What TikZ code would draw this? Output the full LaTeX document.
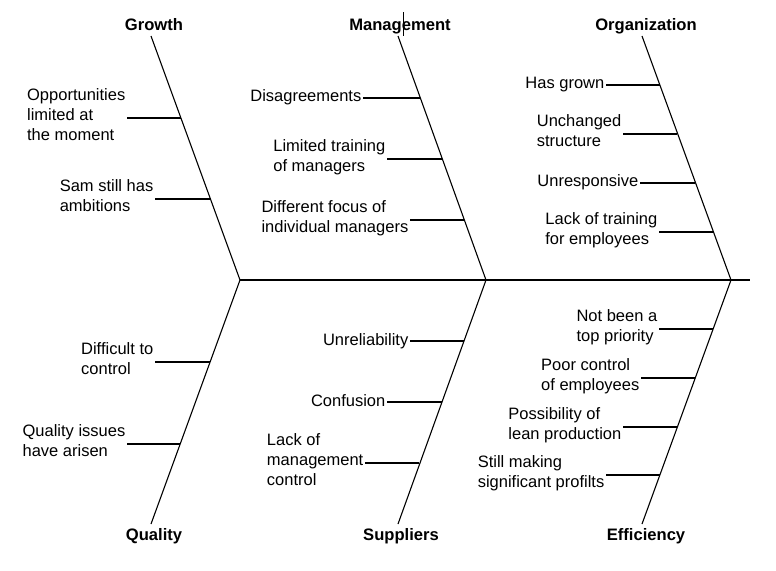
\documentclass[tikz,border=0pt]{standalone}
\usepackage{fontspec}
\setmainfont{Liberation Sans}
\begin{document}
\begin{tikzpicture}[x=1pt,y=-1pt,
  every node/.style={font=\fontsize{16.5}{20}\selectfont, inner sep=0pt},
  head/.style={font=\fontsize{16.6}{20}\selectfont\bfseries, anchor=base},
  cause/.style={align=left, anchor=east, inner xsep=1.5pt,
    execute at begin node=\strut, execute at end node=\strut},
  bone/.style={line width=1.1pt},
  rib/.style={line width=2pt},
  spine/.style={line width=2pt}]
\useasboundingbox (0,0) rectangle (776,570);
% branch ends
\coordinate (gT) at (151,36);
\coordinate (mT) at (398,36);
\coordinate (oT) at (642,36);
\coordinate (jG) at (240,280);
\coordinate (jM) at (486,280);
\coordinate (jO) at (731,280);
\coordinate (qB) at (151,524);
\coordinate (sB) at (398,524);
\coordinate (eB) at (642,524);
\coordinate (spE) at (750,280);
% headings
\node[head] (hG) at (154,30) {Growth};
\node[head] (hM) at (400,30) {Management};
\node[head] (hO) at (646,30) {Organization};
\node[head] (hQ) at (154,540) {Quality};
\node[head] (hS) at (401,540) {Suppliers};
\node[head] (hE) at (646,540) {Efficiency};
% text cursor mark
\coordinate (cuT) at (403.3,12);
\coordinate (cuB) at (403.3,35.5);
\draw[line width=0.8pt] (cuT) -- (cuB);
% spine and bones
\draw[spine] (jG) -- (spE);
\draw[bone] (gT) -- (jG) -- (qB);
\draw[bone] (mT) -- (jM) -- (sB);
\draw[bone] (oT) -- (jO) -- (eB);
% Growth
\node[cause] (g1) at (127,118) {Opportunities\\limited at\\the moment};
\coordinate (g1e) at (180.5,118);
\node[cause] (g2) at (155,199) {Sam still has\\ambitions};
\coordinate (g2e) at (210.1,199);
% Management
\node[cause] (m1) at (363,97.5) {Disagreements};
\coordinate (m1e) at (419.5,97.5);
\node[cause] (m2) at (387,158.5) {Limited training\\of managers};
\coordinate (m2e) at (441.8,158.5);
\node[cause] (m3) at (410,219.5) {Different focus of\\individual managers};
\coordinate (m3e) at (464,219.5);
% Organization
\node[cause] (o1) at (606,84.5) {Has grown};
\coordinate (o1e) at (659.5,84.5);
\node[cause] (o2) at (623,133.5) {Unchanged\\structure};
\coordinate (o2e) at (677.4,133.5);
\node[cause] (o3) at (640,182.5) {Unresponsive};
\coordinate (o3e) at (695.3,182.5);
\node[cause] (o4) at (659,231.5) {Lack of training\\for employees};
\coordinate (o4e) at (713.1,231.5);
% Quality
\node[cause] (q1) at (155,362) {Difficult to\\control};
\coordinate (q1e) at (210.1,362);
\node[cause] (q2) at (127,444) {Quality issues\\have arisen};
\coordinate (q2e) at (180.2,444);
% Suppliers
\node[cause] (s1) at (410,341) {Unreliability};
\coordinate (s1e) at (463.7,341);
\node[cause] (s2) at (387,402) {Confusion};
\coordinate (s2e) at (441.5,402);
\node[cause] (s3) at (365,463) {Lack of\\management\\control};
\coordinate (s3e) at (419.2,463);
% Efficiency
\node[cause] (e1) at (659,329) {Not been a\\top priority};
\coordinate (e1e) at (713.1,329);
\node[cause] (e2) at (641,378) {Poor control\\of employees};
\coordinate (e2e) at (695.2,378);
\node[cause] (e3) at (623,427) {Possibility of\\lean production};
\coordinate (e3e) at (677.4,427);
\node[cause] (e4) at (606,474.5) {Still making\\significant profilts};
\coordinate (e4e) at (660,474.5);
% ribs
\foreach \n in {g1,g2,m1,m2,m3,o1,o2,o3,o4,q1,q2,s1,s2,s3,e1,e2,e3,e4}
  \draw[rib] (\n.east) -- (\n e);
\end{tikzpicture}
\end{document}
